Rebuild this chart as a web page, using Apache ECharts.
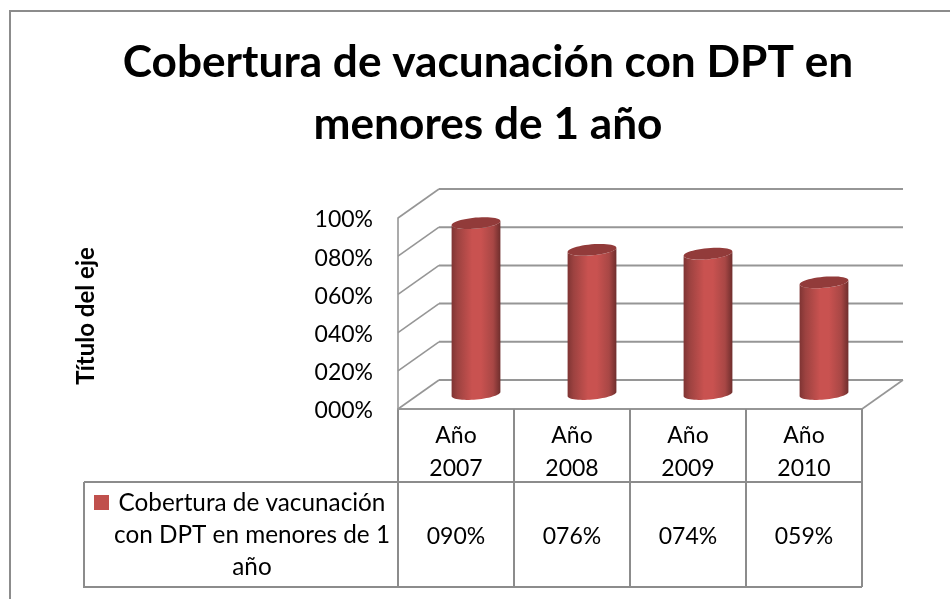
<!DOCTYPE html>
<html><head><meta charset="utf-8">
<style>html,body{margin:0;padding:0;background:#fff}#c{width:950px;height:599px}</style>
<script src="https://cdn.jsdelivr.net/npm/echarts@6/dist/echarts.min.js"></script>
</head><body><div id="c"></div>
<script>
const categories = ['Año\n2007','Año\n2008','Año\n2009','Año\n2010'];
const values = [0.90,0.76,0.74,0.59];
const seriesName = 'Cobertura de vacunación con DPT en menores de 1 año';
const legendLines = ['Cobertura de vacunación','con DPT en menores de 1','año'];
const yTicks = [0,0.2,0.4,0.6,0.8,1];
const titleText = 'Cobertura de vacunación con DPT en\nmenores de 1 año';
const axisName = 'Título del eje';
const FONT = 'Lato';
const GRAY = '#969696';
const TGRAY = '#8c8c8c';
const DEPTH = [41,-29];
const pct = v => String(Math.round(v*100)).padStart(3,'0')+'%';

function ellipse(cx,cy,a,b,rot,t0,t1,n){
  const p=[];const c=Math.cos(rot),s=Math.sin(rot);
  for(let i=0;i<=n;i++){const t=t0+(t1-t0)*i/n;const x=a*Math.cos(t),y=b*Math.sin(t);
    p.push([cx+x*c-y*s,cy+x*s+y*c]);}
  return p;
}
function cylinder(params,api){
  const i=api.value(0),v=api.value(1);
  const top=api.coord([i,v]),base=api.coord([i,0]);
  const cx=base[0]+20;
  const by=base[1]-15,ty=top[1]-14;
  const a=24.5,b=5.5,rot=-0.09;
  const lower=ellipse(cx,by,a,b,rot,0,Math.PI,30);
  const upper=ellipse(cx,ty,a,b,rot,Math.PI,0,30);
  const body=lower.concat(upper);
  const grad={type:'linear',x:0,y:0,x2:1,y2:0,colorStops:[
    {offset:0,color:'#7f3433'},{offset:0.12,color:'#9c4240'},{offset:0.42,color:'#c95250'},
    {offset:0.6,color:'#c95250'},{offset:0.85,color:'#a84745'},{offset:1,color:'#6f2e2d'}]};
  return {type:'group',children:[
    {type:'polygon',shape:{points:body},style:{fill:grad}},
    {type:'polygon',shape:{points:ellipse(cx,ty,a,b,rot,0,Math.PI*2,48)},style:{fill:'#923b3a'}}
  ]};
}
function wall(params,api){
  const v=api.value(0);
  const f=api.coord([0,v]);const w=api.size([1,0])[0];const left=f[0]-w/2;
  const right=left+w*categories.length;
  const y=f[1];
  const bx=left+DEPTH[0],by=y+DEPTH[1];
  const line=(x1,y1,x2,y2,lw)=>({type:'line',shape:{x1,y1,x2,y2},style:{stroke:GRAY,lineWidth:lw}});
  const kids=[line(left,y,bx,by,1.6),line(bx,by,right+DEPTH[0],by,2)];
  if(v===0){kids.push(line(right,y,right+DEPTH[0],by,1.6));}
  return {type:'group',children:kids};
}
function table(params,api){
  const i=api.value(0);
  const c=api.coord([i,0]);const w=api.size([1,0])[0];
  const l=c[0]-w/2,r=c[0]+w/2,y0=c[1];
  const y1=y0+73,y2=y0+178;
  const line=(x1,y1,x2,y2)=>({type:'line',shape:{x1,y1,x2,y2},style:{stroke:TGRAY,lineWidth:2}});
  return {type:'group',children:[
    line(r,y0,r,y2),line(l,y1,r,y1),line(l,y2,r,y2),
    {type:'text',style:{text:pct(api.value(1)),x:c[0],y:y1+55,align:'center',verticalAlign:'middle',
      font:'23px '+FONT,fill:'#000'}}
  ]};
}
const chart=echarts.init(document.getElementById('c'),null,{renderer:'canvas'});
chart.setOption({
  animation:false,backgroundColor:'#fff',
  title:{text:titleText,left:483,top:27,textAlign:'center',
    textStyle:{fontFamily:FONT,fontWeight:'bold',fontSize:44.2,lineHeight:62,color:'#000'}},
  grid:{left:398,top:218,width:464,height:191,containLabel:false},
  xAxis:{type:'category',data:categories,
    axisLine:{show:true,lineStyle:{color:GRAY,width:2}},
    axisTick:{show:false},
    axisLabel:{fontFamily:FONT,fontSize:23,lineHeight:33,color:'#000',margin:10,interval:0},
    splitLine:{show:false}},
  yAxis:{type:'value',min:0,max:1,interval:0.2,
    name:axisName,nameLocation:'middle',nameRotate:90,nameGap:300,
    nameTextStyle:{fontFamily:FONT,fontWeight:'bold',fontSize:24,color:'#000',padding:[0,5,0,0]},
    axisLine:{show:true,lineStyle:{color:GRAY,width:1.6}},
    axisTick:{show:false},splitLine:{show:false},
    axisLabel:{fontFamily:FONT,color:'#000',margin:25,
      formatter:v=>'{a|'+pct(v)+'}',
      rich:{a:{fontFamily:FONT,fontSize:23,color:'#000',padding:[4,0,0,0]}}}},
  graphic:[
    {type:'rect',shape:{x:10,y:11,width:960,height:620},style:{fill:'none',stroke:TGRAY,lineWidth:2},z:100},
    {type:'line',shape:{x1:84,y1:482,x2:398,y2:482},style:{stroke:TGRAY,lineWidth:2}},
    {type:'line',shape:{x1:84,y1:482,x2:84,y2:588},style:{stroke:TGRAY,lineWidth:2}},
    {type:'line',shape:{x1:84,y1:587,x2:398,y2:587},style:{stroke:TGRAY,lineWidth:2}},
    {type:'line',shape:{x1:398,y1:409,x2:398,y2:588},style:{stroke:TGRAY,lineWidth:2}},
    {type:'rect',shape:{x:94,y:495,width:15,height:15},style:{fill:'#c0504d'}},
    {type:'text',style:{text:legendLines[0],x:252,y:503,align:'center',verticalAlign:'middle',font:'24.3px '+FONT,fill:'#000'}},
    {type:'text',style:{text:legendLines[1],x:252,y:535,align:'center',verticalAlign:'middle',font:'24.3px '+FONT,fill:'#000'}},
    {type:'text',style:{text:legendLines[2],x:252,y:567,align:'center',verticalAlign:'middle',font:'24.3px '+FONT,fill:'#000'}}
  ],
  series:[
    {type:'custom',name:'wall',coordinateSystem:'cartesian2d',renderItem:wall,data:yTicks.map(v=>[v]),encode:{x:-1,y:0},z:1,silent:true},
    {type:'custom',name:seriesName,coordinateSystem:'cartesian2d',renderItem:cylinder,
      data:values.map((v,i)=>[i,v]),encode:{x:0,y:1},z:3},
    {type:'custom',name:'table',coordinateSystem:'cartesian2d',renderItem:table,
      data:values.map((v,i)=>[i,v]),encode:{x:0,y:-1},z:2,silent:true}
  ]
});
</script></body></html>
